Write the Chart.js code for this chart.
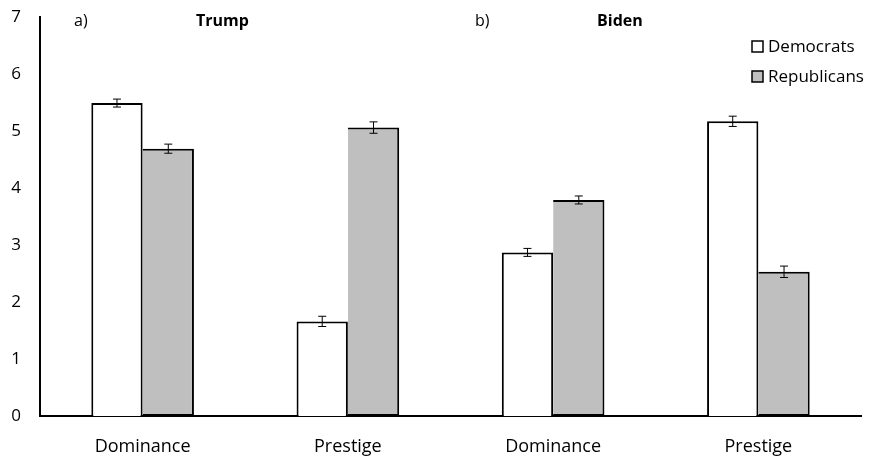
<!DOCTYPE html>
<html>
<head>
<meta charset="utf-8">
<script src="https://cdn.jsdelivr.net/npm/chart.js@4.4.1/dist/chart.umd.min.js"></script>
<style>
  html, body { margin: 0; padding: 0; background: #fff; }
</style>
</head>
<body>
<canvas id="grafico" width="872" height="457"></canvas>
<script>
// Dados do gráfico
const categorias = ['Dominance', 'Prestige', 'Dominance', 'Prestige'];
const democratas = [5.49, 1.66, 2.87, 5.17];
const republicanos = [4.69, 5.06, 3.79, 2.53];
const erroDem = [0.07, 0.09, 0.07, 0.09];
const erroRep = [0.08, 0.10, 0.07, 0.10];
const ticksY = [0, 1, 2, 3, 4, 5, 6, 7];

const fonte = '"Open Sans", "Noto Sans", sans-serif';

// Barras de erro
const barrasErro = {
    id: 'barrasErro',
    afterDatasetsDraw(chart) {
        const ctx = chart.ctx;
        const y = chart.scales.y;
        const erros = [erroDem, erroRep];
        ctx.save();
        ctx.strokeStyle = '#000';
        ctx.lineWidth = 1;
        chart.data.datasets.forEach((ds, i) => {
            chart.getDatasetMeta(i).data.forEach((bar, j) => {
                const v = ds.data[j];
                const e = erros[i][j];
                const yt = y.getPixelForValue(v + e);
                const yb = y.getPixelForValue(v - e);
                ctx.beginPath();
                ctx.moveTo(bar.x, yt); ctx.lineTo(bar.x, yb);
                ctx.moveTo(bar.x - 4, yt); ctx.lineTo(bar.x + 4, yt);
                ctx.moveTo(bar.x - 4, yb); ctx.lineTo(bar.x + 4, yb);
                ctx.stroke();
            });
        });
        ctx.restore();
    }
};

// Legenda e rótulos dos painéis
const textos = {
    id: 'textos',
    afterDraw(chart) {
        const ctx = chart.ctx;
        ctx.save();
        ctx.fillStyle = '#000';
        ctx.textBaseline = 'middle';
        ctx.textAlign = 'left';
        ctx.font = '16px ' + fonte;
        ctx.fillText('a)', 74, 21);
        ctx.fillText('b)', 475, 21);
        ctx.font = 'bold 16px ' + fonte;
        ctx.fillText('Trump', 196, 21);
        ctx.fillText('Biden', 597, 21);

        const itens = [
            { nome: 'Democrats', cor: '#FFFFFF', y: 47 },
            { nome: 'Republicans', cor: '#BFBFBF', y: 77 }
        ];
        ctx.font = '17px ' + fonte;
        itens.forEach(it => {
            ctx.fillStyle = it.cor;
            ctx.fillRect(752, it.y - 6, 11, 11);
            ctx.strokeStyle = '#000';
            ctx.lineWidth = 1.5;
            ctx.strokeRect(752, it.y - 6, 11, 11);
            ctx.fillStyle = '#000';
            ctx.fillText(it.nome, 768, it.y);
        });
        ctx.restore();
    }
};

const config = {
    type: 'bar',
    data: {
        labels: categorias,
        datasets: [{
            label: 'Democrats',
            data: democratas,
            backgroundColor: '#FFFFFF',
            borderColor: '#000000',
            borderWidth: 2,
            categoryPercentage: 0.5,
            barPercentage: 1.0
        }, {
            label: 'Republicans',
            data: republicanos,
            backgroundColor: '#BFBFBF',
            borderColor: '#000000',
            borderWidth: 2,
            borderSkipped: 'left', // borda partilhada com a barra branca
            categoryPercentage: 0.5,
            barPercentage: 1.0
        }]
    },
    options: {
        responsive: false,
        animation: false,
        layout: { padding: { top: 17, right: 11, left: 0, bottom: 0 } },
        plugins: {
            legend: { display: false },
            tooltip: { enabled: false }
        },
        scales: {
            x: {
                grid: { display: false, drawTicks: false },
                border: { display: true, color: '#000', width: 2 },
                ticks: {
                    color: '#000',
                    font: { family: fonte, size: 18 },
                    padding: 20
                },
                afterFit(scale) {
                    scale.height = 41;
                    scale.paddingLeft = 0;
                    scale.paddingRight = 0;
                }
            },
            y: {
                min: 0,
                max: 7,
                afterBuildTicks(scale) {
                    scale.ticks = ticksY.map(v => ({ value: v }));
                },
                grid: { display: false, drawTicks: false },
                border: { display: true, color: '#000', width: 2 },
                ticks: {
                    color: '#000',
                    font: { family: fonte, size: 17 },
                    padding: 19
                },
                afterFit(scale) {
                    scale.width = 40;
                    scale.paddingTop = 0;
                    scale.paddingBottom = 0;
                }
            }
        }
    },
    plugins: [barrasErro, textos]
};

const meuGrafico = new Chart(document.getElementById('grafico'), config);
</script>
</body>
</html>
